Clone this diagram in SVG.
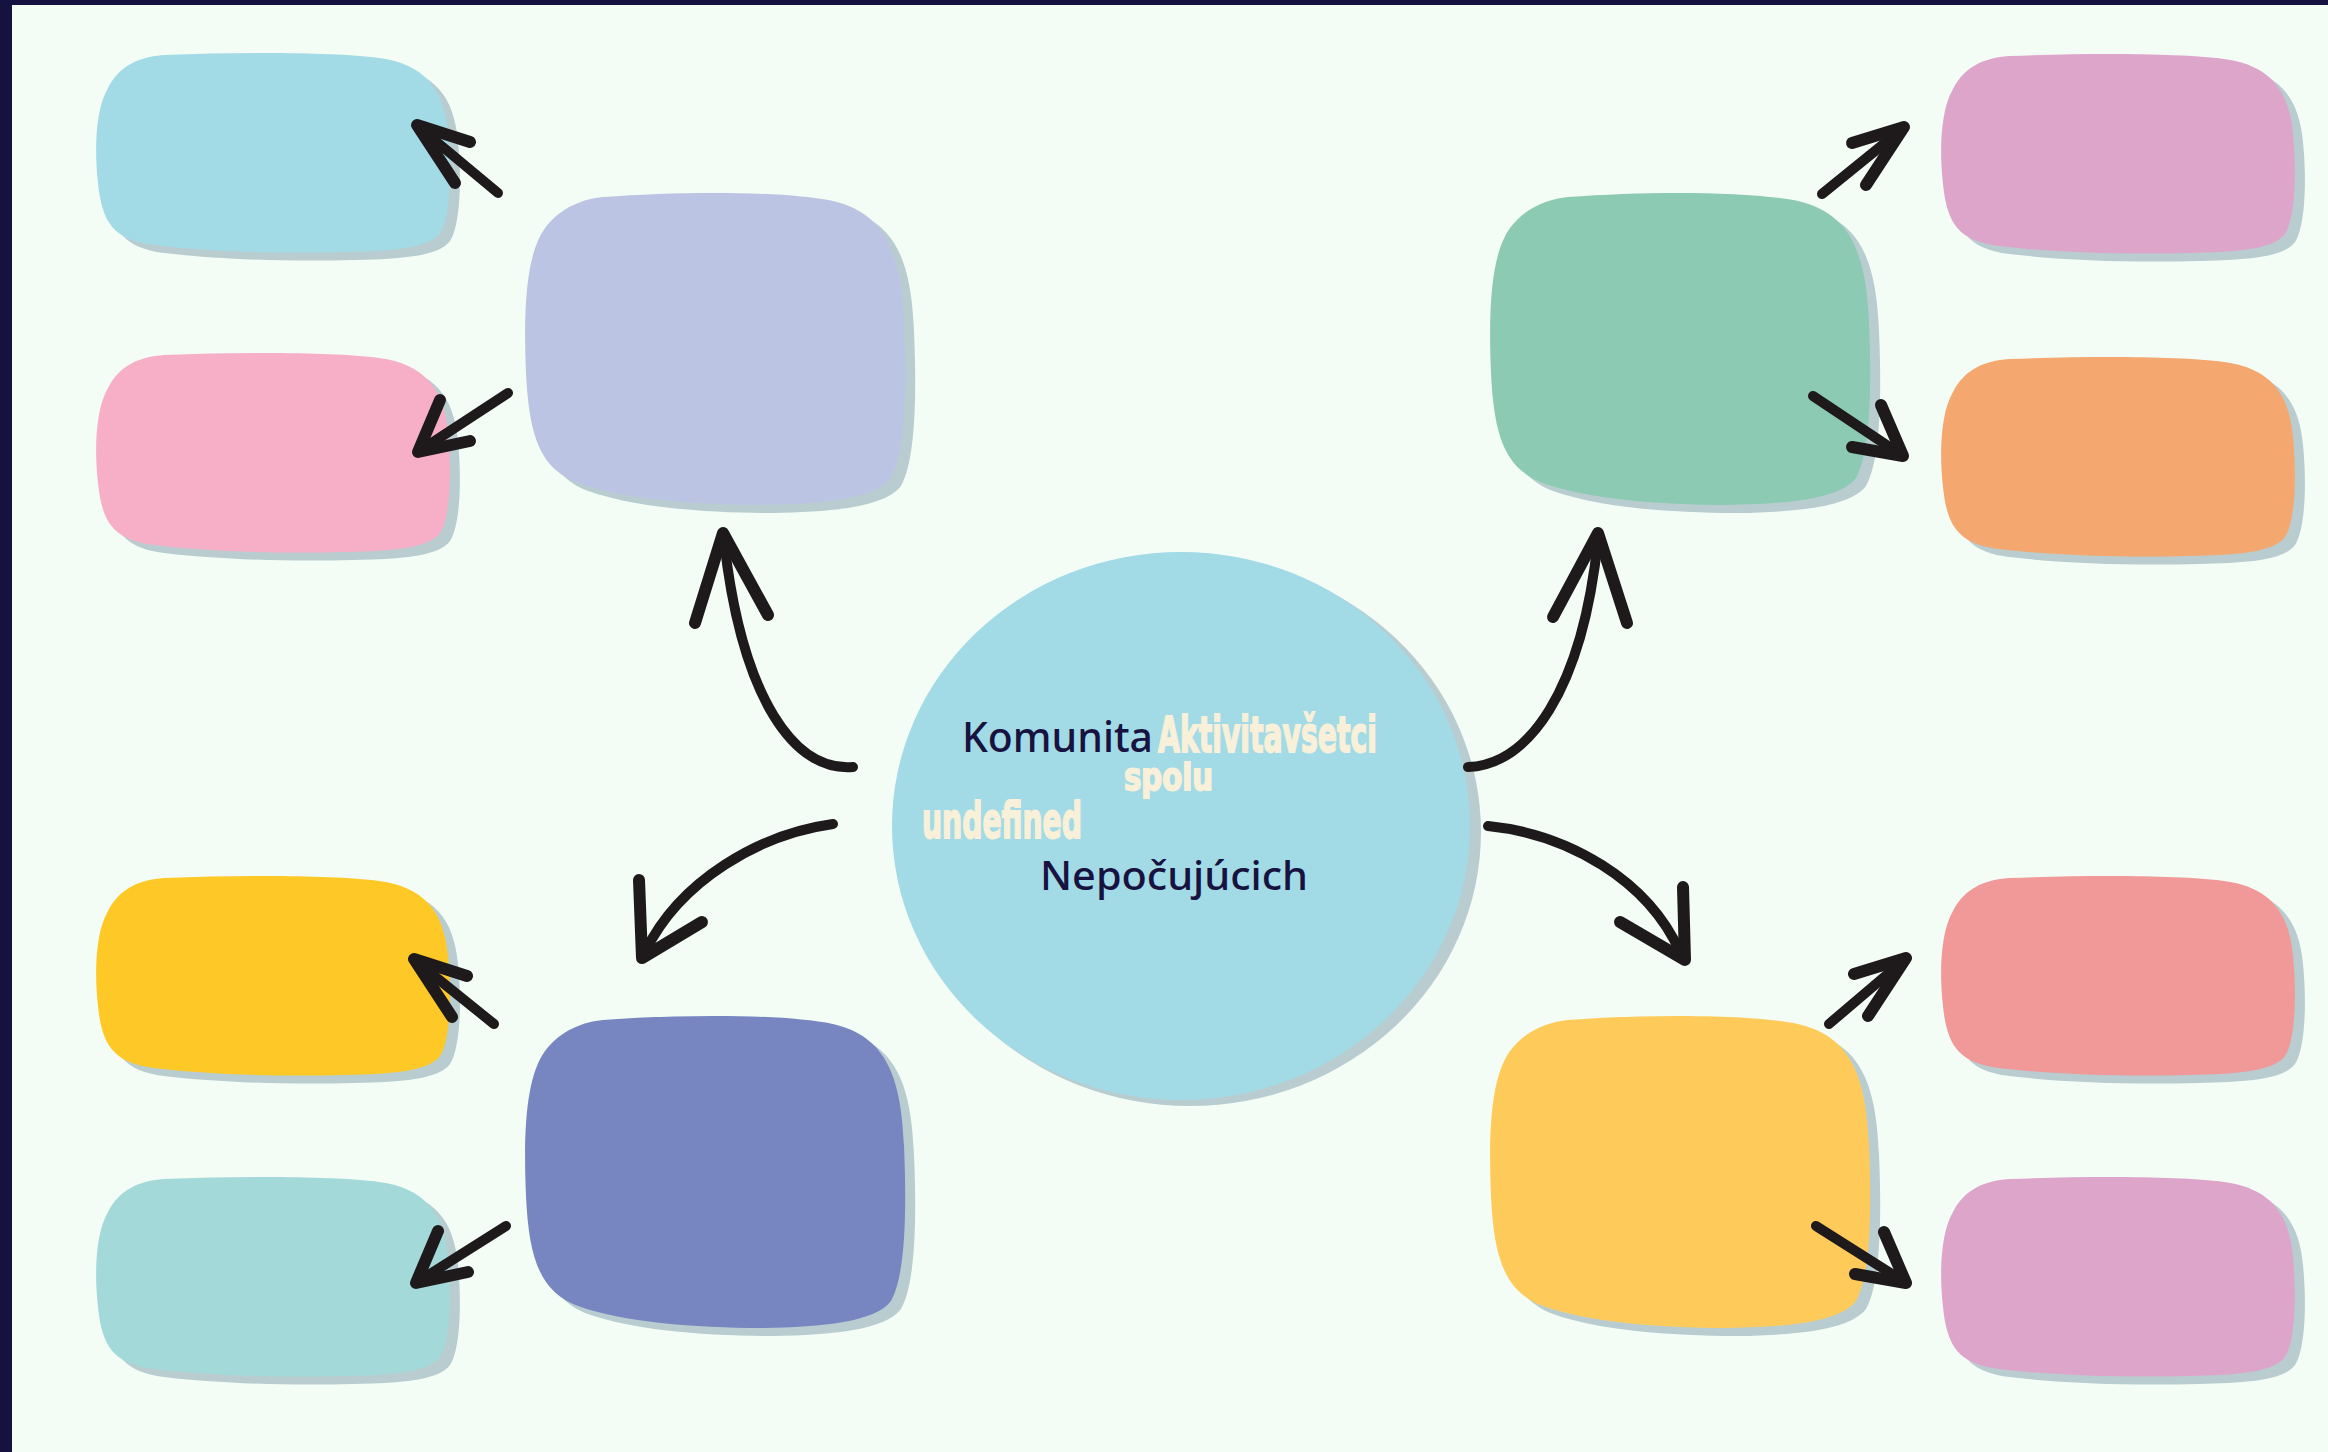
<svg xmlns="http://www.w3.org/2000/svg" xmlns:xlink="http://www.w3.org/1999/xlink" width="2328" height="1452" viewBox="0 0 2328 1452">
<style>
.shadow{fill:#b9cdd0}
.arr{fill:none;stroke:#1e1a1b;stroke-width:10;stroke-linecap:round;stroke-linejoin:round}
.head{fill:none;stroke:#1e1a1b;stroke-width:12;stroke-linecap:round;stroke-linejoin:round}
.navy{fill:#17123f;font-family:"Noto Sans","Open Sans",sans-serif;font-weight:500}
.cream{fill:#f8f0d9;stroke:#f8f0d9;stroke-width:1.8;font-family:"Liberation Sans Narrow","DejaVu Sans Condensed","Liberation Sans",sans-serif;font-weight:bold}
</style>
<defs>
<path id="sb" d="M70,2 C150,-1 240,-1 285,5 C330,11 350,35 354,80 C358,120 356,165 346,180 C335,195 300,198 250,199 C180,201 110,198 60,192 C20,187 8,170 4,130 C0,95 2,55 14,35 C26,12 45,4 70,2 Z"/>
<path id="mb" d="M80,4 C160,-2 260,-2 310,8 C360,20 378,55 381,130 C384,200 382,260 368,285 C352,306 300,311 240,312 C170,312 100,306 55,290 C18,276 6,245 3,180 C0,110 4,60 22,35 C38,14 60,6 80,4 Z"/>
</defs>
<rect x="0" y="0" width="2328" height="1452" fill="#f3fdf5"/>
<rect x="0" y="0" width="12" height="1452" fill="#16123f"/>
<rect x="0" y="0" width="2328" height="5" fill="#16123f"/>

<g id="box-a" transform="translate(94,53)"><use href="#sb" class="shadow" x="10" y="8"/><use href="#sb" fill="#a2dbe6"/></g>
<g id="box-b" transform="translate(94,353)"><use href="#sb" class="shadow" x="10" y="8"/><use href="#sb" fill="#f7afc8"/></g>
<g id="box-c" transform="translate(94,876)"><use href="#sb" class="shadow" x="10" y="8"/><use href="#sb" fill="#fec927"/></g>
<g id="box-d" transform="translate(94,1177)"><use href="#sb" class="shadow" x="10" y="8"/><use href="#sb" fill="#a3d9d9"/></g>
<g id="box-e" transform="translate(1939,54)"><use href="#sb" class="shadow" x="10" y="8"/><use href="#sb" fill="#dea5cb"/></g>
<g id="box-f" transform="translate(1939,357)"><use href="#sb" class="shadow" x="10" y="8"/><use href="#sb" fill="#f4a870"/></g>
<g id="box-g" transform="translate(1939,876)"><use href="#sb" class="shadow" x="10" y="8"/><use href="#sb" fill="#f19898"/></g>
<g id="box-h" transform="translate(1939,1177)"><use href="#sb" class="shadow" x="10" y="8"/><use href="#sb" fill="#dea5cb"/></g>

<g id="mid-lavender" transform="translate(523,193)"><use href="#mb" class="shadow" x="10" y="8"/><use href="#mb" fill="#bcc4e3"/></g>
<g id="mid-green" transform="translate(1488,193)"><use href="#mb" class="shadow" x="10" y="8"/><use href="#mb" fill="#8ccab4"/></g>
<g id="mid-blue" transform="translate(523,1016)"><use href="#mb" class="shadow" x="10" y="8"/><use href="#mb" fill="#7785c0"/></g>
<g id="mid-yellow" transform="translate(1488,1016)"><use href="#mb" class="shadow" x="10" y="8"/><use href="#mb" fill="#fecb5b"/></g>

<g id="center">
<ellipse cx="1190" cy="832" rx="291" ry="274" class="shadow"/>
<ellipse cx="1181" cy="826" rx="289" ry="274" fill="#a2dae6"/>
<text class="navy" x="962" y="752" font-size="42" textLength="191" lengthAdjust="spacingAndGlyphs">Komunita</text>
<text class="cream" x="1158" y="752" font-size="50" textLength="219" lengthAdjust="spacingAndGlyphs">Aktivitavšetci</text>
<text class="cream" x="1124" y="790" font-size="38" textLength="89" lengthAdjust="spacingAndGlyphs">spolu</text>
<text class="cream" x="922" y="838" font-size="49" textLength="160" lengthAdjust="spacingAndGlyphs">undefined</text>
<text class="navy" x="1040" y="890" font-size="40" textLength="268" lengthAdjust="spacingAndGlyphs">Nepočujúcich</text>
</g>

<g id="connectors">
<path class="arr" d="M853,767 C795,772 742,700 724,540"/>
<path class="head" d="M695,623 L723,533 L768,615"/>
<path class="arr" d="M1468,767 C1528,765 1582,692 1598,540"/>
<path class="head" d="M1553,617 L1598,533 L1627,623"/>
<path class="arr" d="M833,824 C760,834 680,880 645,952"/>
<path class="head" d="M639,880 L642,958 L702,922"/>
<path class="arr" d="M1488,826 C1568,834 1648,880 1680,952"/>
<path class="head" d="M1683,887 L1685,960 L1620,922"/>

<path class="arr" d="M498,193 L420,128"/>
<path class="head" d="M470,142 L417,125 L455,183"/>
<path class="arr" d="M508,393 L421,450"/>
<path class="head" d="M440,400 L418,452 L470,441"/>
<path class="arr" d="M494,1024 L417,962"/>
<path class="head" d="M467,976 L414,959 L452,1017"/>
<path class="arr" d="M506,1226 L419,1281"/>
<path class="head" d="M438,1231 L416,1283 L468,1272"/>

<path class="arr" d="M1822,194 L1901,130"/>
<path class="head" d="M1852,143 L1904,127 L1866,185"/>
<path class="arr" d="M1813,396 L1900,454"/>
<path class="head" d="M1881,405 L1903,456 L1852,447"/>
<path class="arr" d="M1829,1024 L1903,961"/>
<path class="head" d="M1854,974 L1906,958 L1868,1016"/>
<path class="arr" d="M1816,1226 L1903,1281"/>
<path class="head" d="M1884,1232 L1906,1283 L1855,1274"/>
</g>
</svg>
